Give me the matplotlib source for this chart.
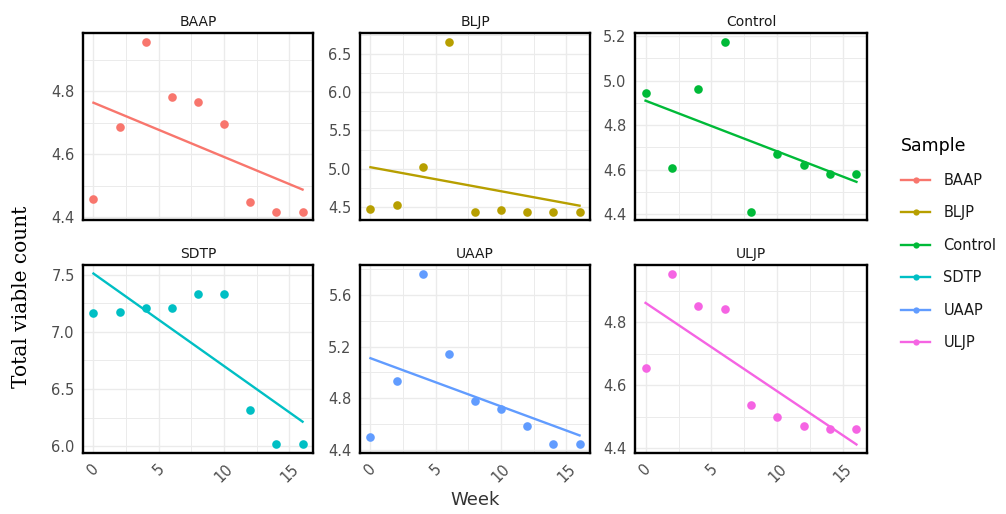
import numpy as np
import matplotlib
matplotlib.use("Agg")
import matplotlib.pyplot as plt
from matplotlib.ticker import MultipleLocator, FormatStrFormatter
from matplotlib.lines import Line2D

# Данные
weeks = [0, 2, 4, 6, 8, 10, 12, 14, 16]
samples = ["BAAP", "BLJP", "Control", "SDTP", "UAAP", "ULJP"]
colors = ["#F8766D", "#B79F00", "#00BA38", "#00BFC4", "#619CFF", "#F564E3"]

baap = [4.457, 4.688, 4.959, 4.782, 4.767, 4.697, 4.448, 4.418, 4.418]
bljp = [4.483, 4.526, 5.025, 6.660, 4.444, 4.465, 4.444, 4.444, 4.444]
control = [4.946, 4.606, 4.961, 5.176, 4.412, 4.669, 4.621, 4.579, 4.579]
sdtp = [7.160, 7.175, 7.204, 7.204, 7.334, 7.334, 6.313, 6.015, 6.015]
uaap = [4.500, 4.930, 5.768, 5.143, 4.775, 4.716, 4.585, 4.441, 4.441]
uljp = [4.656, 4.955, 4.852, 4.841, 4.538, 4.499, 4.471, 4.460, 4.460]
values = [baap, bljp, control, sdtp, uaap, uljp]

# шаг делений по оси y для каждой панели
y_steps = [0.2, 0.5, 0.2, 0.5, 0.4, 0.2]

fig = plt.figure(figsize=(10.06, 5.14), dpi=100)
W, H = 1006, 514
lefts = [83, 360, 635]
rights = [313, 590, 867]
tops = [33, 265]
bottoms = [220, 453]

x = np.array(weeks)
for i, (name, y, col, step) in enumerate(zip(samples, values, colors, y_steps)):
    r, c = divmod(i, 3)
    ax = fig.add_axes([lefts[c] / W, 1 - bottoms[r] / H,
                       (rights[c] - lefts[c]) / W, (bottoms[r] - tops[r]) / H])
    y = np.array(y)
    # линейная регрессия
    k, b = np.polyfit(x, y, 1)
    xf = np.linspace(0, 16, 80)
    yf = k * xf + b
    ax.plot(xf, yf, color=col, lw=1.7, zorder=3)
    ax.plot(x, y, "o", color=col, ms=6.2, mec="none", zorder=4)

    lo = min(y.min(), yf.min())
    hi = max(y.max(), yf.max())
    pad = 0.05 * (hi - lo)
    ax.set_ylim(lo - pad, hi + pad)
    ax.set_xlim(-0.8, 16.8)

    ax.xaxis.set_major_locator(MultipleLocator(5))
    ax.xaxis.set_minor_locator(MultipleLocator(2.5))
    ax.yaxis.set_major_locator(MultipleLocator(step))
    ax.yaxis.set_minor_locator(MultipleLocator(step / 2))
    ax.grid(which="major", color="#EBEBEB", lw=1.0)
    ax.grid(which="minor", color="#EBEBEB", lw=0.7)
    ax.set_axisbelow(True)
    ax.tick_params(which="both", length=0)
    ax.tick_params(axis="y", labelsize=10.5, labelcolor="#4D4D4D", pad=6)
    ax.yaxis.set_major_formatter(FormatStrFormatter("%.1f"))
    if r == 0:
        ax.tick_params(axis="x", labelbottom=False)
    else:
        ax.tick_params(axis="x", labelsize=10.5, labelcolor="#4D4D4D", pad=6)
        for lab in ax.get_xticklabels():
            lab.set_rotation(45)
            lab.set_ha("center")
    for sp in ax.spines.values():
        sp.set_color("black")
        sp.set_linewidth(1.7)
    ax.set_title(name, fontsize=10, color="#1A1A1A", pad=5)

fig.text(475 / W, 1 - 500 / H, "Week", fontsize=13, color="#333333",
         ha="center", va="center")
fig.text(22 / W, 1 - 297 / H, "Total viable count", fontsize=14.5,
         family="DejaVu Serif", rotation=90, ha="center", va="center")

handles = [Line2D([], [], color=c, lw=1.7, marker="o", ms=4.5, mec="none")
           for c in colors]
leg = fig.legend(handles, samples, loc="upper left",
                 bbox_to_anchor=(888 / W, 1 - 124 / H), frameon=False,
                 title="Sample", fontsize=10.5, title_fontsize=12.5,
                 handlelength=2.0, labelspacing=1.2, handletextpad=0.9)
leg._legend_box.align = "left"
for t in leg.get_texts():
    t.set_color("#1A1A1A")

fig.savefig("out.png", dpi=100)
